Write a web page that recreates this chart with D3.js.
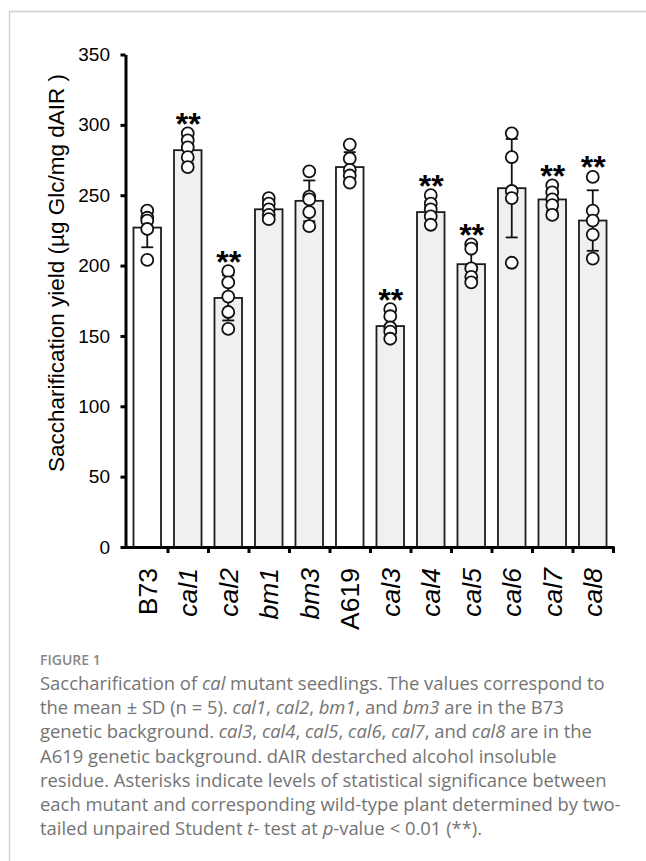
<!DOCTYPE html>
<html>
<head>
<meta charset="utf-8">
<script src="https://cdn.jsdelivr.net/npm/d3@7"></script>
<style>
  html, body { margin: 0; padding: 0; background: #fff; }
  svg { display: block; }
</style>
</head>
<body>
<svg id="chart" width="646" height="861"></svg>
<script>
// ---- data ----
const categories = ["B73", "cal1", "cal2", "bm1", "bm3", "A619", "cal3", "cal4", "cal5", "cal6", "cal7", "cal8"];
const italicLabel = [false, true, true, true, true, false, true, true, true, true, true, true];
const wildType = [true, false, false, false, false, true, false, false, false, false, false, false];
const means = [227, 282, 177, 240, 246, 270, 157, 238, 201, 255, 247, 232];
const sds = [14, 9.5, 16, 6, 14.5, 10.6, 8.5, 8, 12, 35, 8, 21.5];
const points = [
  [239, 234, 232, 226, 204],
  [294, 289, 284, 277, 270],
  [196, 188, 178, 167, 155],
  [248, 244, 240, 236, 233],
  [267, 249, 247, 238, 228],
  [286, 276, 268, 264, 259],
  [169, 164, 156, 153, 148],
  [250, 244, 240, 235, 229],
  [215, 212, 198, 192, 188],
  [294, 277, 253, 248, 202],
  [257, 252, 247, 243, 236],
  [263, 239, 232, 222, 205]
];
const significant = [false, true, true, false, false, false, true, true, true, false, true, true];
const yTicks = [0, 50, 100, 150, 200, 250, 300, 350];
const yTitle = "Saccharification yield (µg Glc/mg dAIR )";
const figureLabel = "FIGURE 1";
const captionLines = [
  [["Saccharification of ", false], ["cal", true], [" mutant seedlings. The values correspond to", false]],
  [["the mean ± SD (n = 5). ", false], ["cal1", true], [", ", false], ["cal2", true], [", ", false], ["bm1", true], [", and ", false], ["bm3", true], [" are in the B73", false]],
  [["genetic background. ", false], ["cal3", true], [", ", false], ["cal4", true], [", ", false], ["cal5", true], [", ", false], ["cal6", true], [", ", false], ["cal7", true], [", and ", false], ["cal8", true], [" are in the", false]],
  [["A619 genetic background. dAIR destarched alcohol insoluble", false]],
  [["residue. Asterisks indicate levels of statistical significance between", false]],
  [["each mutant and corresponding wild-type plant determined by two-", false]],
  [["tailed unpaired Student ", false], ["t", true], ["- test at ", false], ["p", true], ["-value < 0.01 (**).", false]]
];

// ---- drawing ----
const svg = d3.select("#chart");
const FONT = "'Liberation Sans', Arial, Helvetica, sans-serif";

// frame
svg.append("path")
  .attr("d", "M9.5,861 L9.5,11.5 L646,11.5")
  .attr("fill", "none").attr("stroke", "#cfcfcf").attr("stroke-width", 1.3);

const y = d3.scaleLinear().domain([0, 350]).range([547, 54.5]);
const x = d3.scaleBand().domain(categories).range([127, 613])
  .paddingInner(0.32).paddingOuter(0.16);
const xb = d3.scaleLinear().domain([0, categories.length]).range([127, 613]);

const g = svg.append("g");

// bars
g.selectAll("rect.bar").data(categories).join("rect")
  .attr("class", "bar")
  .attr("x", d => x(d))
  .attr("width", x.bandwidth())
  .attr("y", (d, i) => y(means[i]))
  .attr("height", (d, i) => y(0) - y(means[i]))
  .attr("fill", (d, i) => wildType[i] ? "#ffffff" : "#f0f0f0")
  .attr("stroke", "#1c1c1c").attr("stroke-width", 1.8);

// error bars
const eb = g.selectAll("g.eb").data(categories).join("g").attr("class", "eb")
  .attr("transform", d => `translate(${x(d) + x.bandwidth() / 2},0)`);
eb.append("line")
  .attr("y1", (d, i) => y(means[i] - sds[i]))
  .attr("y2", (d, i) => y(means[i] + sds[i]))
  .attr("stroke", "#111").attr("stroke-width", 1.8);
eb.append("line")
  .attr("x1", -6).attr("x2", 6)
  .attr("y1", (d, i) => y(means[i] + sds[i])).attr("y2", (d, i) => y(means[i] + sds[i]))
  .attr("stroke", "#111").attr("stroke-width", 1.8);
eb.append("line")
  .attr("x1", -6).attr("x2", 6)
  .attr("y1", (d, i) => y(means[i] - sds[i])).attr("y2", (d, i) => y(means[i] - sds[i]))
  .attr("stroke", "#111").attr("stroke-width", 1.8);

// points
const pts = [];
categories.forEach((c, i) => points[i].forEach(v => pts.push({ c, v })));
g.selectAll("circle.pt").data(pts).join("circle")
  .attr("class", "pt")
  .attr("cx", d => x(d.c) + x.bandwidth() / 2)
  .attr("cy", d => y(d.v))
  .attr("r", 6)
  .attr("fill", "#fff").attr("stroke", "#111").attr("stroke-width", 1.8);

// significance asterisks
g.selectAll("text.sig").data(categories.filter((c, i) => significant[i])).join("text")
  .attr("class", "sig")
  .attr("x", d => x(d) + x.bandwidth() / 2 + 0.5)
  .attr("y", d => {
    const i = categories.indexOf(d);
    const top = Math.max(d3.max(points[i]), means[i] + sds[i]);
    return y(top) + 1.5;
  })
  .attr("text-anchor", "middle")
  .attr("font-family", FONT).attr("font-weight", "bold").attr("font-size", 32)
  .attr("fill", "#000")
  .text("**");

// y axis
const yAxis = g.append("g").attr("transform", "translate(125.5,0)")
  .call(d3.axisLeft(y).tickValues(yTicks).tickSize(5).tickSizeOuter(0).tickPadding(10.5));
yAxis.select(".domain").attr("stroke", "#000").attr("stroke-width", 3);
yAxis.selectAll(".tick line").attr("stroke", "#000").attr("stroke-width", 3);
yAxis.selectAll(".tick text").attr("font-family", FONT).attr("font-size", 19).attr("fill", "#000");

// x axis
const xAxis = g.append("g").attr("transform", "translate(0,547)")
  .call(d3.axisBottom(xb).tickValues(d3.range(1, categories.length + 1)).tickSize(6).tickSizeOuter(0).tickFormat(""));
xAxis.select(".domain").attr("stroke", "#000").attr("stroke-width", 3)
  .attr("d", "M124,0.5H614.5");
xAxis.selectAll(".tick line").attr("stroke", "#000").attr("stroke-width", 3);

// x labels
g.selectAll("text.xl").data(categories).join("text")
  .attr("class", "xl")
  .attr("transform", d => `translate(${x(d) + x.bandwidth() / 2},568) rotate(-90)`)
  .attr("dy", "0.36em")
  .attr("text-anchor", "end")
  .attr("font-family", FONT).attr("font-size", 26.5)
  .attr("font-style", (d, i) => italicLabel[i] ? "italic" : "normal")
  .attr("fill", "#000")
  .text(d => d);

// y title
g.append("text")
  .attr("transform", "translate(64,273) rotate(-90)")
  .attr("text-anchor", "middle")
  .attr("font-family", FONT).attr("font-size", 22.5)
  .attr("fill", "#000")
  .text(yTitle);

// caption
const CAP = "'Open Sans', 'Noto Sans', sans-serif";
svg.append("text")
  .attr("x", 40).attr("y", 665)
  .attr("font-family", CAP).attr("font-weight", 600).attr("font-size", 14)
  .attr("fill", "#888")
  .text(figureLabel);

const capG = svg.append("g");
const lineTexts = capG.selectAll("text").data(captionLines).join("text")
  .attr("x", 40)
  .attr("y", (d, i) => 690 + i * 24.2)
  .attr("font-family", CAP).attr("font-size", 17)
  .attr("fill", "#747474");
lineTexts.selectAll("tspan").data(d => d).join("tspan")
  .attr("font-style", d => d[1] ? "italic" : "normal")
  .text(d => d[0]);
// fit caption size so the first line spans the same width as in the figure
const w0 = lineTexts.node().getComputedTextLength();
const fs = 17 * 565 / w0;
lineTexts.attr("font-size", fs);
</script>
</body>
</html>
